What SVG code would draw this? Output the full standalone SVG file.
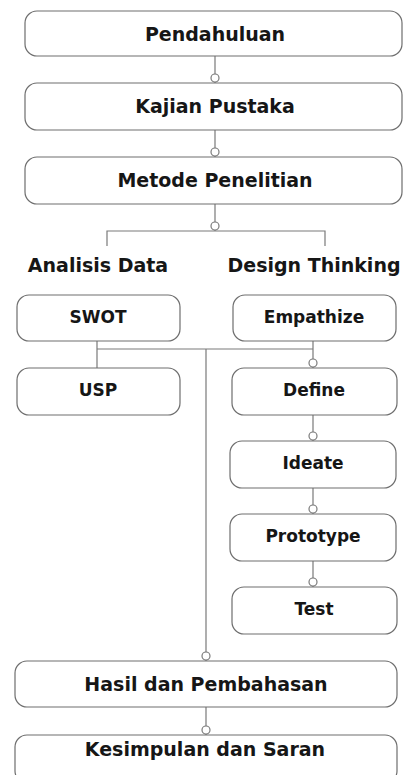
<svg xmlns="http://www.w3.org/2000/svg" width="403" height="775" viewBox="0 0 403 775">
<style>
.box{fill:#fff;stroke:#6e6e6e;stroke-width:1.2}
.ln{fill:none;stroke:#7a7a7a;stroke-width:1.2}
.dot{fill:#fff;stroke:#7a7a7a;stroke-width:1.2}
.tb{font-family:"DejaVu Sans","Liberation Sans",sans-serif;font-weight:bold;font-size:19px;fill:#161616;text-anchor:middle}
.ts{font-family:"DejaVu Sans","Liberation Sans",sans-serif;font-weight:bold;font-size:17px;fill:#161616;text-anchor:middle}
</style>
<rect width="403" height="775" fill="#fff"/>
<g id="connectors">
<path class="ln" d="M215 56V83M215 130V157M215 204V231M107 246V231H325V246"/>
<path class="ln" d="M97 341V368M97 349H313M313 341V368M206 349V661M206 707V735"/>
<path class="ln" d="M313 415V441M313 488V514M313 561V587"/>
<circle class="dot" cx="215" cy="78" r="4"/>
<circle class="dot" cx="215" cy="152" r="4"/>
<circle class="dot" cx="215" cy="226" r="4"/>
<circle class="dot" cx="313" cy="363" r="4"/>
<circle class="dot" cx="313" cy="436" r="4"/>
<circle class="dot" cx="313" cy="509" r="4"/>
<circle class="dot" cx="313" cy="582" r="4"/>
<circle class="dot" cx="206" cy="656" r="4"/>
<circle class="dot" cx="206" cy="730" r="4"/>
</g>
<g id="pendahuluan"><rect class="box" x="25" y="11" width="377" height="45" rx="12"/><text class="tb" x="215" y="41">Pendahuluan</text></g>
<g id="kajian"><rect class="box" x="25" y="83" width="377" height="47" rx="12"/><text class="tb" x="215" y="113">Kajian Pustaka</text></g>
<g id="metode"><rect class="box" x="25" y="157" width="377" height="47" rx="12"/><text class="tb" x="215" y="187">Metode Penelitian</text></g>
<g id="analisis"><text class="tb" x="98" y="272">Analisis Data</text></g>
<g id="design"><text class="tb" x="314" y="272">Design Thinking</text></g>
<g id="swot"><rect class="box" x="17" y="295" width="163" height="46" rx="12"/><text class="ts" x="98" y="323">SWOT</text></g>
<g id="empathize"><rect class="box" x="233" y="295" width="163" height="46" rx="12"/><text class="ts" x="314" y="323">Empathize</text></g>
<g id="usp"><rect class="box" x="17" y="368" width="163" height="47" rx="12"/><text class="ts" x="98" y="396">USP</text></g>
<g id="define"><rect class="box" x="232" y="368" width="165" height="47" rx="12"/><text class="ts" x="314" y="396">Define</text></g>
<g id="ideate"><rect class="box" x="230" y="441" width="166" height="47" rx="12"/><text class="ts" x="313" y="469">Ideate</text></g>
<g id="prototype"><rect class="box" x="230" y="514" width="166" height="47" rx="12"/><text class="ts" x="313" y="542">Prototype</text></g>
<g id="test"><rect class="box" x="232" y="587" width="165" height="47" rx="12"/><text class="ts" x="314" y="615">Test</text></g>
<g id="hasil"><rect class="box" x="15" y="661" width="382" height="46" rx="12"/><text class="tb" x="206" y="691">Hasil dan Pembahasan</text></g>
<g id="kesimpulan"><rect class="box" x="15" y="735" width="382" height="48" rx="12"/><text class="tb" x="205" y="756">Kesimpulan dan Saran</text></g>
</svg>
